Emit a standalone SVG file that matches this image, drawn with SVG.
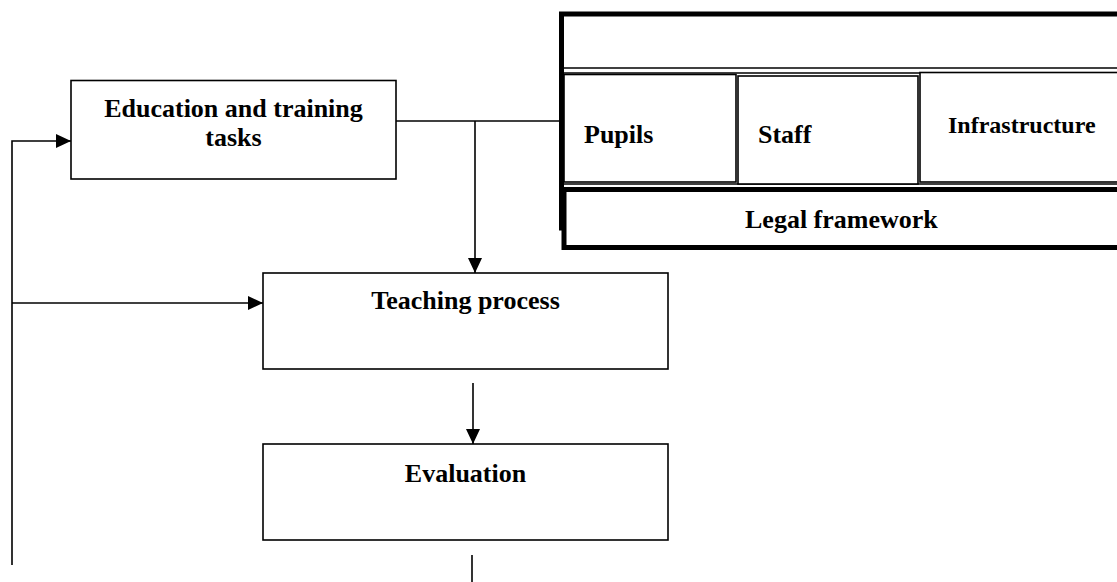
<svg xmlns="http://www.w3.org/2000/svg" width="1117" height="582" viewBox="0 0 1117 582">
  <style>
    .box { fill: #fff; stroke: #000; stroke-width: 1.6; }
    .thick { fill: #fff; stroke: #000; stroke-width: 5; }
    .thin { fill: none; stroke: #000; stroke-width: 1.5; }
    .cell { fill: #fff; stroke: #000; stroke-width: 1.6; }
    .conn { fill: none; stroke: #000; stroke-width: 1.6; }
    text { font-family: "Liberation Serif", "Times New Roman", serif; font-weight: bold; font-size: 26px; fill: #000; }
  </style>
  <defs>
    <marker id="arrow" markerUnits="userSpaceOnUse" markerWidth="15" markerHeight="14" refX="15" refY="7" orient="auto">
      <path d="M0,0 L15,7 L0,14 z" fill="#000"/>
    </marker>
  </defs>

  <g id="connectors">
    <line class="conn" x1="396" y1="121" x2="560" y2="121"/>
    <line class="conn" x1="475" y1="121" x2="475" y2="273" marker-end="url(#arrow)"/>
    <line class="conn" x1="473" y1="383" x2="473" y2="444" marker-end="url(#arrow)"/>
    <line class="conn" x1="472" y1="555" x2="472" y2="582"/>
    <polyline class="conn" points="12,565 12,141 71,141" marker-end="url(#arrow)"/>
    <line class="conn" x1="12" y1="303" x2="263" y2="303" marker-end="url(#arrow)"/>
  </g>

  <g id="education">
    <rect class="box" x="71" y="80.5" width="325" height="98.5"/>
    <text x="233.5" y="117" text-anchor="middle">Education and training</text>
    <text x="233.5" y="146" text-anchor="middle">tasks</text>
  </g>

  <g id="teaching">
    <rect class="box" x="263" y="273" width="405" height="96"/>
    <text x="465.5" y="309" text-anchor="middle">Teaching process</text>
  </g>

  <g id="evaluation">
    <rect class="box" x="263" y="444" width="405" height="96"/>
    <text x="465.5" y="482" text-anchor="middle">Evaluation</text>
  </g>

  <g id="context">
    <rect class="thick" x="561.5" y="14" width="600" height="214"/>
    <line class="thin" x1="564" y1="68" x2="1125" y2="68"/>
    <line class="thin" x1="564" y1="73" x2="1125" y2="73"/>
    <line class="thin" x1="564" y1="184" x2="1125" y2="184"/>
    <g id="pupils">
      <rect class="cell" x="564" y="74.5" width="172" height="107.5"/>
      <text x="584" y="143">Pupils</text>
    </g>
    <g id="staff">
      <rect class="cell" x="738" y="76" width="180" height="108"/>
      <text x="758" y="143">Staff</text>
    </g>
    <g id="infrastructure">
      <rect class="cell" x="920" y="72.5" width="205" height="109.5"/>
      <text x="948" y="133" style="font-size:24px">Infrastructure</text>
    </g>
    <g id="legal">
      <rect class="thick" x="564" y="189.5" width="600" height="58"/>
      <text x="745" y="228">Legal framework</text>
    </g>
  </g>
</svg>
